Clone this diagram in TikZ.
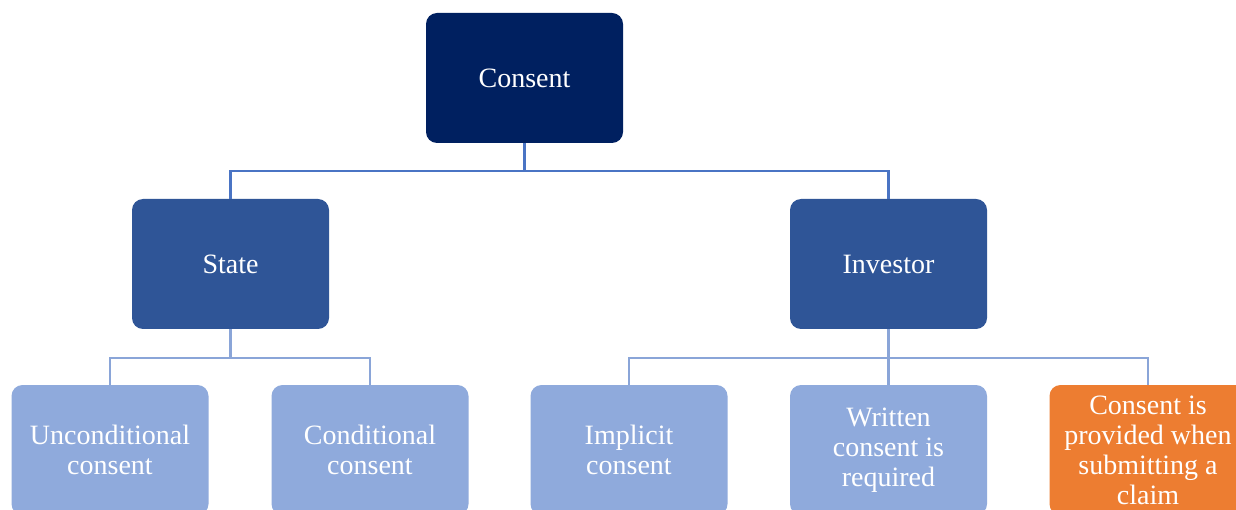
\documentclass[tikz,border=0pt]{standalone}
\usepackage{fontspec}
\setmainfont{Liberation Serif}
\definecolor{navy}{HTML}{002060}
\definecolor{midblue}{HTML}{2F5597}
\definecolor{leafblue}{HTML}{8FAADC}
\definecolor{accent}{HTML}{ED7D31}
\definecolor{linktop}{HTML}{4A74C4}
\definecolor{linkleaf}{HTML}{8AA5D8}
\tikzset{
  card/.style={rounded corners=11pt, minimum width=197pt, minimum height=130pt,
    inner sep=2pt, align=center, text=white,
    font=\fontsize{28}{30}\selectfont},
  rootcard/.style={card, fill=navy},
  partycard/.style={card, fill=midblue},
  leafcard/.style={card, fill=leafblue},
  hotcard/.style={card, fill=accent},
  toplink/.style={draw=linktop, line width=2.8pt},
  leaflink/.style={draw=linkleaf, line width=2.8pt},
}
\begin{document}
\begin{tikzpicture}[x=1pt,y=-1pt]
\useasboundingbox (0,0) rectangle (1236,510);
\clip (0,0) rectangle (1236,510);
\fill[white] (0,0) rectangle (1236,510);

% hierarchy: root, the two parties, and the forms of consent
\node[rootcard]  (root) at (524.5,78)  {Consent};
\node[partycard] (state) at (230.5,264) {State};
\node[partycard] (inv)   at (888.5,264) {Investor};
\node[leafcard] (uncond) at (110,450)  {Unconditional\\consent};
\node[leafcard] (cond)   at (370,450)  {Conditional\\consent};
\node[leafcard] (impl)   at (629,450)  {Implicit\\consent};
\node[leafcard] (writ)   at (888.5,450) {Written\\consent is\\required};
\node[hotcard]  (claim)  at (1148,450) {Consent is\\provided when\\submitting a\\claim};

% elbow connectors
\draw[toplink] (root.south) |- (state.north |- 0,171) -- (state.north);
\draw[toplink] (root.south) |- (inv.north |- 0,171) -- (inv.north);

\draw[leaflink] (state.south) |- (uncond.north |- 0,358) -- (uncond.north);
\draw[leaflink] (state.south) |- (cond.north |- 0,358) -- (cond.north);
\draw[leaflink] (inv.south) |- (impl.north |- 0,358) -- (impl.north);
\draw[leaflink] (inv.south) -- (writ.north);
\draw[leaflink] (inv.south) |- (claim.north |- 0,358) -- (claim.north);
\end{tikzpicture}
\end{document}
